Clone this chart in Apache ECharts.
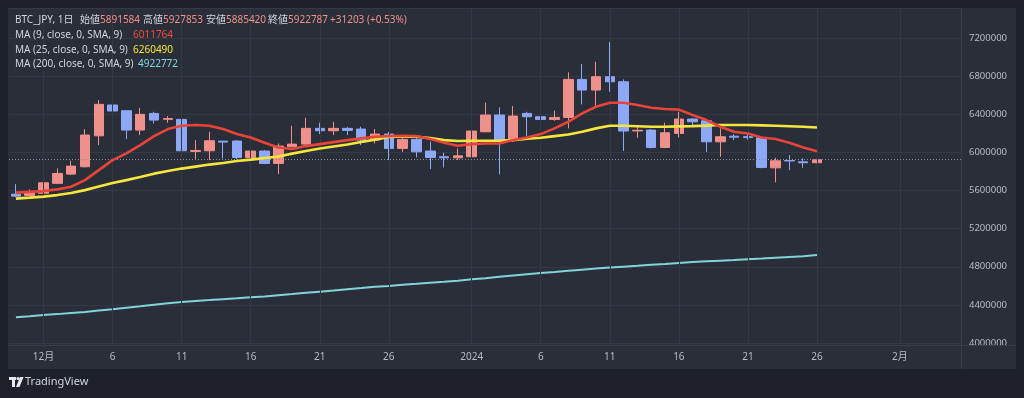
<!DOCTYPE html>
<html>
<head>
  <meta charset="UTF-8">
  <title>BTC_JPY 1日</title>
  <style>
    html, body { margin: 0; padding: 0; background: #1e212a; }
    #main { width: 1024px; height: 398px; }
  </style>
</head>
<body>
<div id="main"></div>
<script src="https://cdn.jsdelivr.net/npm/echarts@6/dist/echarts.min.js"></script>
<script>
  // 日付 (11/29 ～ 2/5, 右側は空き)
  const dates = [
    '11/29', '11/30',
    '12/01', '12/02', '12/03', '12/04', '12/05', '12/06', '12/07', '12/08', '12/09', '12/10',
    '12/11', '12/12', '12/13', '12/14', '12/15', '12/16', '12/17', '12/18', '12/19', '12/20',
    '12/21', '12/22', '12/23', '12/24', '12/25', '12/26', '12/27', '12/28', '12/29', '12/30', '12/31',
    '01/01', '01/02', '01/03', '01/04', '01/05', '01/06', '01/07', '01/08', '01/09', '01/10',
    '01/11', '01/12', '01/13', '01/14', '01/15', '01/16', '01/17', '01/18', '01/19', '01/20',
    '01/21', '01/22', '01/23', '01/24', '01/25', '01/26', '01/27', '01/28', '01/29', '01/30', '01/31',
    '02/01', '02/02', '02/03', '02/04', '02/05'
  ];

  // [始値, 終値, 安値, 高値]
  const candles = [
    [5562000, 5541000, 5531000, 5667000],
    [5548000, 5586000, 5538000, 5611000],
    [5572000, 5681000, 5552000, 5737000],
    [5675000, 5779000, 5667000, 5832000],
    [5772000, 5856000, 5762000, 5912000],
    [5849000, 6182000, 5842000, 6245000],
    [6174000, 6504000, 6077000, 6549000],
    [6497000, 6434000, 6399000, 6525000],
    [6437000, 6234000, 6140000, 6444000],
    [6234000, 6399000, 6182000, 6468000],
    [6409000, 6339000, 6304000, 6426000],
    [6347000, 6355000, 6311000, 6381000],
    [6346000, 6017000, 5877000, 6350000],
    [6010000, 6020000, 5919000, 6129000],
    [6017000, 6122000, 5919000, 6216000],
    [6118000, 6108000, 5937000, 6121000],
    [6119000, 5947000, 5930000, 6129000],
    [5947000, 6014000, 5940000, 6066000],
    [6014000, 5884000, 5877000, 6024000],
    [5884000, 6066000, 5772000, 6094000],
    [6059000, 6087000, 6053000, 6279000],
    [6087000, 6252000, 6077000, 6363000],
    [6252000, 6227000, 6192000, 6311000],
    [6227000, 6252000, 6182000, 6321000],
    [6252000, 6231000, 6182000, 6265000],
    [6245000, 6129000, 6077000, 6269000],
    [6129000, 6192000, 6094000, 6245000],
    [6192000, 6042000, 5919000, 6213000],
    [6042000, 6136000, 6006000, 6157000],
    [6136000, 6006000, 5947000, 6164000],
    [6014000, 5947000, 5825000, 6111000],
    [5954000, 5943000, 5842000, 5996000],
    [5943000, 5964000, 5919000, 6042000],
    [5954000, 6224000, 5947000, 6245000],
    [6216000, 6392000, 6213000, 6521000],
    [6392000, 6129000, 5769000, 6472000],
    [6129000, 6381000, 6111000, 6486000],
    [6409000, 6374000, 6171000, 6426000],
    [6374000, 6346000, 6287000, 6381000],
    [6346000, 6367000, 6332000, 6437000],
    [6367000, 6766000, 6252000, 6840000],
    [6766000, 6654000, 6504000, 6927000],
    [6654000, 6794000, 6489000, 6951000],
    [6794000, 6741000, 6636000, 7158000],
    [6741000, 6224000, 6014000, 6766000],
    [6225000, 6232000, 6153000, 6287000],
    [6234000, 6052000, 6042000, 6245000],
    [6052000, 6206000, 6045000, 6311000],
    [6199000, 6350000, 6157000, 6426000],
    [6350000, 6321000, 6269000, 6360000],
    [6332000, 6111000, 6006000, 6339000],
    [6111000, 6164000, 5954000, 6252000],
    [6170000, 6160000, 6129000, 6189000],
    [6165000, 6155000, 6135000, 6188000],
    [6153000, 5842000, 5832000, 6160000],
    [5838000, 5912000, 5685000, 5943000],
    [5915000, 5910000, 5814000, 5972000],
    [5901000, 5891584, 5838000, 5937000],
    [5891584, 5922787, 5885420, 5927853]
  ];

  const ma9 = [
    5578000, 5586000, 5594000, 5612000, 5639000, 5709000, 5814000, 5919000, 5989000, 6077000,
    6171000, 6245000, 6279000, 6287000, 6279000, 6245000, 6192000, 6157000, 6101000, 6052000,
    6035000, 6066000, 6087000, 6108000, 6129000, 6147000, 6164000, 6171000, 6174000, 6171000,
    6140000, 6101000, 6069000, 6087000, 6094000, 6094000, 6129000, 6157000, 6192000, 6252000,
    6321000, 6409000, 6479000, 6521000, 6521000, 6497000, 6468000, 6455000, 6449000, 6392000,
    6339000, 6269000, 6216000, 6199000, 6157000, 6140000, 6101000, 6052000, 6011764
  ];

  const ma25 = [
    5515000, 5525000, 5536000, 5552000, 5573000, 5604000, 5641000, 5678000, 5709000, 5741000,
    5777000, 5804000, 5830000, 5851000, 5872000, 5888000, 5909000, 5924000, 5940000, 5956000,
    5987000, 6014000, 6040000, 6061000, 6082000, 6108000, 6134000, 6161000, 6166000, 6164000,
    6150000, 6129000, 6119000, 6122000, 6122000, 6122000, 6129000, 6143000, 6153000, 6171000,
    6187000, 6216000, 6252000, 6279000, 6279000, 6274000, 6269000, 6269000, 6273000, 6276000,
    6281000, 6287000, 6287000, 6287000, 6283000, 6279000, 6274000, 6269000, 6260490
  ];

  const ma200 = [
    4271000, 4281000, 4293000, 4303000, 4315000, 4325000, 4340000, 4355000, 4371000, 4385000,
    4401000, 4416000, 4431000, 4441000, 4450000, 4460000, 4469000, 4480000, 4489000, 4501000,
    4513000, 4526000, 4539000, 4551000, 4564000, 4576000, 4589000, 4599000, 4611000, 4621000,
    4633000, 4643000, 4654000, 4668000, 4680000, 4694000, 4708000, 4721000, 4734000, 4745000,
    4757000, 4769000, 4781000, 4792000, 4801000, 4810000, 4820000, 4829000, 4840000, 4849000,
    4857000, 4864000, 4871000, 4879000, 4886000, 4894000, 4902000, 4909000, 4922772
  ];

  // 時間軸ラベル
  const tickDates = ['12/01', '12/06', '12/11', '12/16', '12/21', '12/26', '01/01', '01/06', '01/11', '01/16', '01/21', '01/26', '02/01'];
  const tickLabels = ['12月', '6', '11', '16', '21', '26', '2024', '6', '11', '16', '21', '26', '2月'];

  // 価格軸
  const priceMin = 4000000;
  const priceMax = 7515000;
  const priceStep = 400000;

  const upColor = '#f0908a';
  const downColor = '#8ea8f8';
  const panelColor = '#2a2e39';
  const gridColor = '#353945';
  const textColor = '#b8bbc4';
  const fontFamily = '"Noto Sans", "Noto Sans CJK JP", sans-serif';

  const last = candles[candles.length - 1];
  const change = last[1] - last[0];
  const changeText = (change >= 0 ? '+' : '') + change + ' (' + (change >= 0 ? '+' : '') + (change / last[0] * 100).toFixed(2) + '%)';

  function legendText(x, y, text, color) {
    return {
      type: 'text', x: x, y: y, z: 120,
      style: { text: text, fill: color, font: '10px ' + fontFamily, textVerticalAlign: 'middle' }
    };
  }

  let myChart = echarts.init(document.getElementById('main'), null, {renderer: 'canvas'});
  let option = {
    animation: false,
    backgroundColor: '#1e212a',
    grid: { left: 9, right: 62, top: 8, bottom: 55 },
    xAxis: {
      type: 'category',
      data: dates,
      boundaryGap: true,
      z: 110,
      axisLine: { show: false },
      axisTick: { show: false },
      splitLine: { show: false },
      axisLabel: {
        color: textColor,
        fontSize: 10,
        fontFamily: fontFamily,
        margin: 9,
        interval: function (index, value) {
          return tickDates.indexOf(value) >= 0;
        },
        formatter: function (value) {
          let i = tickDates.indexOf(value);
          return i >= 0 ? tickLabels[i] : '';
        }
      }
    },
    yAxis: {
      type: 'value',
      position: 'right',
      min: priceMin,
      max: priceMax,
      interval: priceStep,
      axisLine: { show: false },
      axisTick: { show: false },
      splitLine: { lineStyle: { color: gridColor, width: 1 } },
      axisLabel: {
        color: textColor,
        fontSize: 9.5,
        fontFamily: fontFamily,
        margin: 7,
        showMaxLabel: false,
        formatter: function (v) {
          return v % priceStep === 0 ? String(v) : '';
        }
      }
    },
    graphic: [
      { type: 'rect', z: -10, shape: { x: 8, y: 8, width: 1008, height: 361 }, style: { fill: panelColor } },
      // 価格軸下端ラベルの切り取り
      { type: 'rect', z: 100, shape: { x: 962, y: 345, width: 54, height: 24 }, style: { fill: panelColor } },
      { type: 'line', z: 101, shape: { x1: 961.5, y1: 8, x2: 961.5, y2: 369 }, style: { stroke: '#3a3e4a', lineWidth: 1 } },
      { type: 'line', z: 101, shape: { x1: 8, y1: 345.5, x2: 1016, y2: 345.5 }, style: { stroke: '#3a3e4a', lineWidth: 1 } },
      // TradingView ロゴ
      { type: 'rect', z: 120, shape: { x: 9, y: 377, width: 7, height: 3 }, style: { fill: '#e6e8ee' } },
      { type: 'rect', z: 120, shape: { x: 12, y: 377, width: 3, height: 10 }, style: { fill: '#e6e8ee' } },
      { type: 'circle', z: 120, shape: { cx: 18, cy: 378.5, r: 1.6 }, style: { fill: '#e6e8ee' } },
      { type: 'polygon', z: 120, shape: { points: [[20, 377], [23.5, 377], [19.5, 387], [16, 387]] }, style: { fill: '#e6e8ee' } },
      { type: 'text', x: 25, y: 382, z: 120, style: { text: 'TradingView', fill: '#d1d4dc', font: '11px ' + fontFamily, textVerticalAlign: 'middle' } },
      // 凡例
      legendText(15, 20, 'BTC_JPY, 1日', '#d1d4dc'),
      legendText(80, 20, '始値', '#d1d4dc'),
      legendText(100, 20, String(last[0]), upColor),
      legendText(143, 20, '高値', '#d1d4dc'),
      legendText(163, 20, String(last[3]), upColor),
      legendText(206, 20, '安値', '#d1d4dc'),
      legendText(226, 20, String(last[2]), upColor),
      legendText(268, 20, '終値', '#d1d4dc'),
      legendText(288, 20, String(last[1]), upColor),
      legendText(330, 20, changeText, upColor),
      legendText(15, 35, 'MA (9, close, 0, SMA, 9)', '#d1d4dc'),
      legendText(133, 35, String(ma9[ma9.length - 1]), '#ec4d3f'),
      legendText(15, 50, 'MA (25, close, 0, SMA, 9)', '#d1d4dc'),
      legendText(133, 50, String(ma25[ma25.length - 1]), '#f5e63c'),
      legendText(15, 64, 'MA (200, close, 0, SMA, 9)', '#d1d4dc'),
      legendText(138, 64, String(ma200[ma200.length - 1]), '#80d8dc')
    ],
    series: [
      {
        // 縦グリッド線
        name: 'grid',
        type: 'line',
        data: [],
        z: 1,
        silent: true,
        markLine: {
          silent: true,
          symbol: ['none', 'none'],
          label: { show: false },
          lineStyle: { color: gridColor, width: 1, type: 'solid' },
          data: tickDates.map(function (d) { return { xAxis: d }; })
        }
      },
      {
        name: 'BTC_JPY',
        type: 'candlestick',
        data: candles,
        barWidth: 10,
        z: 3,
        itemStyle: {
          color: upColor,
          color0: downColor,
          borderColor: upColor,
          borderColor0: downColor,
          borderWidth: 1
        },
        markLine: {
          silent: true,
          symbol: ['none', 'none'],
          label: { show: false },
          lineStyle: { color: '#8c909b', width: 1, type: [1, 2] },
          data: [{ yAxis: last[1] }]
        }
      },
      {
        name: 'MA200',
        type: 'line',
        data: ma200,
        z: 4,
        symbol: 'none',
        lineStyle: { color: '#80d4dc', width: 2 }
      },
      {
        name: 'MA25',
        type: 'line',
        data: ma25,
        z: 5,
        symbol: 'none',
        lineStyle: { color: '#f5e63c', width: 2.6 }
      },
      {
        name: 'MA9',
        type: 'line',
        data: ma9,
        z: 6,
        symbol: 'none',
        lineStyle: { color: '#e9443a', width: 2.6 }
      }
    ]
  };

  myChart.setOption(option);

  window.addEventListener("resize", function () {
    myChart.resize();
  });
</script>
</body>
</html>
